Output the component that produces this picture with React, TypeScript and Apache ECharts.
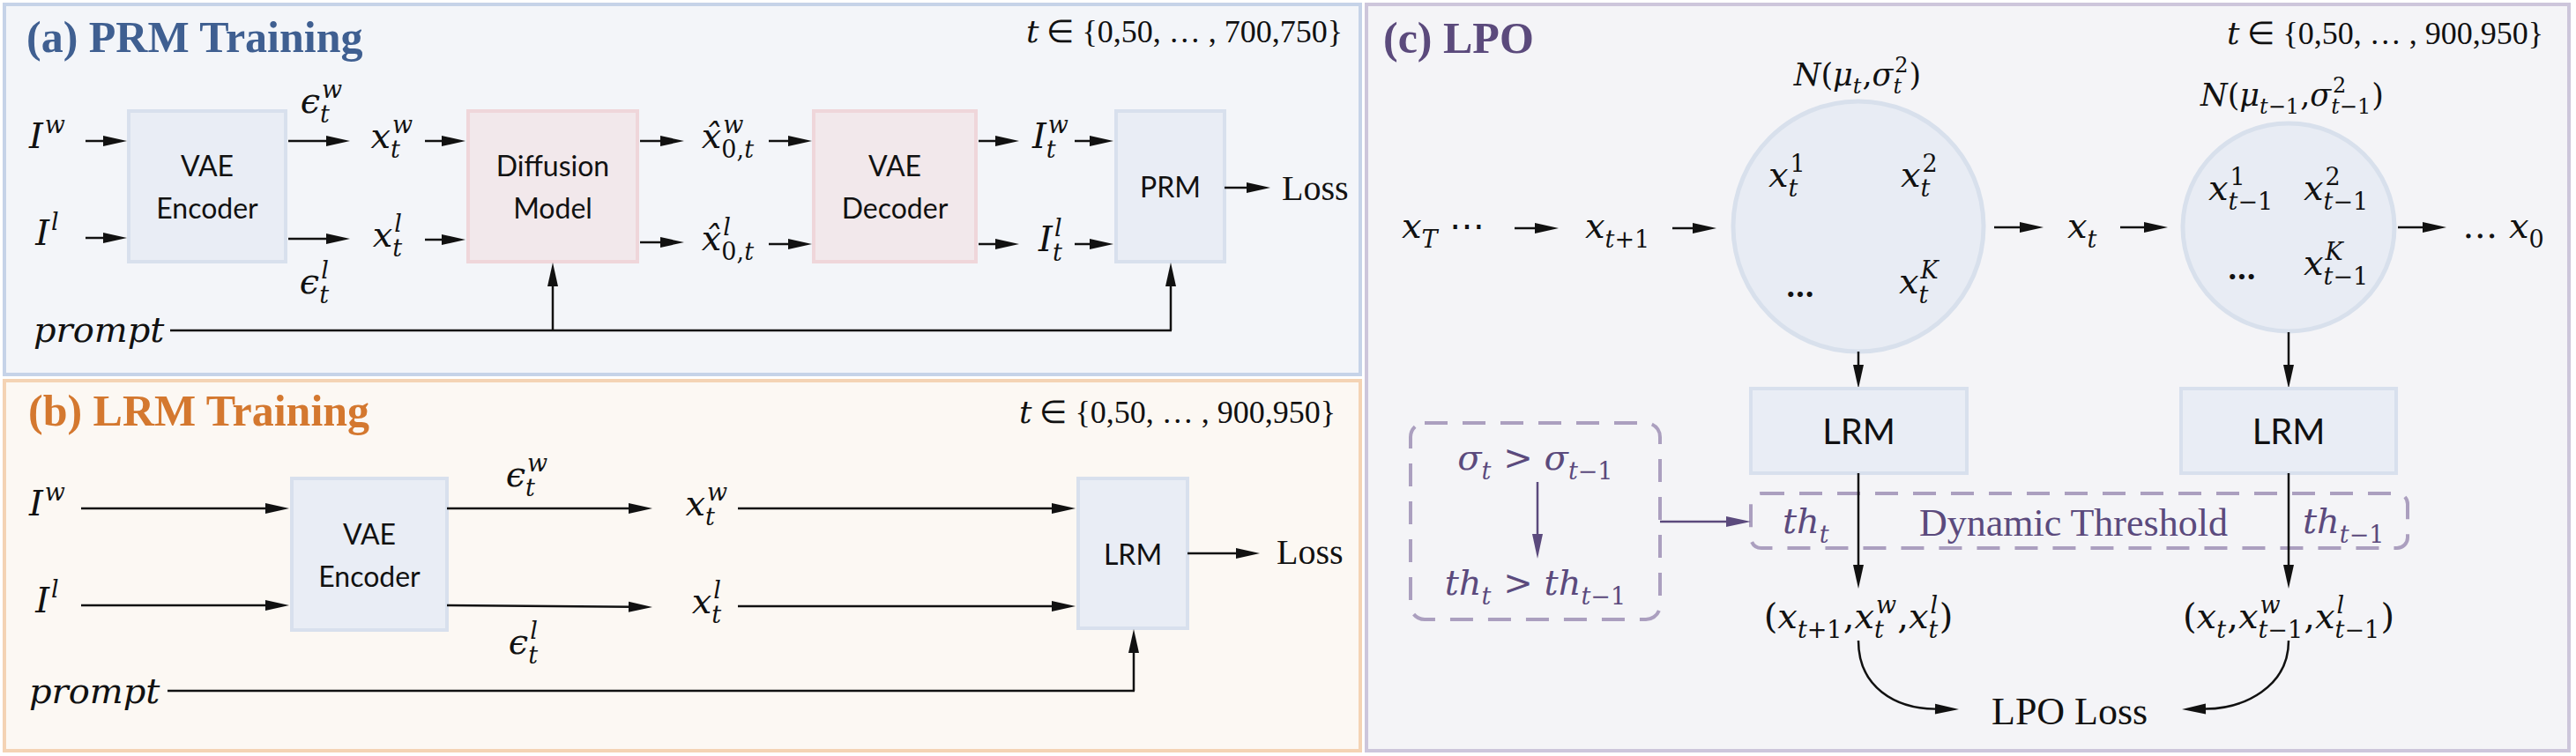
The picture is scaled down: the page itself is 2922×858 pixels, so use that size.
import { useEffect, useRef } from "react";
import * as echarts from "echarts";

const W = 2922;
const H = 858;

const MATH = '"DejaVu Serif", serif';
const ROMAN = '"Liberation Serif", "Times New Roman", serif';
const SANS = 'Lato, "Open Sans", sans-serif';

// labels of the diagram
const TITLES = ["(a) PRM Training", "(b) LRM Training", "(c) LPO"];
const TITLE_COLORS = ["#3f5f91", "#d4782f", "#5b4a7c"];
const RANGES = ["t ∈ {0,50, … , 700,750}", "t ∈ {0,50, … , 900,950}", "t ∈ {0,50, … , 900,950}"];
const PRM_BOXES = [["VAE", "Encoder"], ["Diffusion", "Model"], ["VAE", "Decoder"], ["PRM"]];
const PRM_WIN = ["I^w", "ϵ_t^w", "x_t^w", "x\u0302_{0,t}^w", "I_t^w"];
const PRM_LOSE = ["I^l", "ϵ_t^l", "x_t^l", "x\u0302_{0,t}^l", "I_t^l"];
const LRM_BOXES = [["VAE", "Encoder"], ["LRM"]];
const LRM_WIN = ["I^w", "ϵ_t^w", "x_t^w"];
const LRM_LOSE = ["I^l", "ϵ_t^l", "x_t^l"];
const CHAIN = ["x_T ⋯", "x_{t+1}", "x_t", "… x_0"];
const GAUSS = ["N(μ_t,σ_t^2)", "N(μ_{t-1},σ_{t-1}^2)"];
const SAMPLES_T = ["x_t^1", "x_t^2", "…", "x_t^K"];
const SAMPLES_T1 = ["x_{t-1}^1", "x_{t-1}^2", "…", "x_{t-1}^K"];
const PAIRS = ["(x_{t+1},x_t^w,x_t^l)", "(x_t,x_{t-1}^w,x_{t-1}^l)"];
const THRESH = ["th_t", "Dynamic Threshold", "th_{t-1}"];
const RULE = ["σ_t > σ_{t-1}", "th_t > th_{t-1}"];
const LOSSES = ["Loss", "Loss", "LPO Loss"];
const PROMPT = "prompt";

const INK = "#111111";
const PURPLE = "#5b4a7d";
const DASH = "#ab9fbf";
const BLUE_BOX = { fill: "#e9edf5", stroke: "#d8e0ed" };
const PINK_BOX = { fill: "#f2e8eb", stroke: "#efd6da" };

// ---- text helpers ----
const measureCtx = document.createElement("canvas").getContext("2d")!;
function textW(s: string, size: number, italic: boolean, family = MATH) {
  measureCtx.font = `${italic ? "italic " : ""}${size}px ${family}`;
  return measureCtx.measureText(s).width;
}
const isLetter = (c: string) => /[A-Za-z\u0370-\u03ff]/.test(c);
const isCombining = (c: string) => /[\u0300-\u036f]/.test(c);

type Atom = { b: string; sub?: string; sup?: string };

function parse(src: string): Atom[] {
  const atoms: Atom[] = [];
  let i = 0;
  while (i < src.length) {
    const c = src[i];
    if (c === "_" || c === "^") {
      i++;
      let arg = "";
      if (src[i] === "{") {
        const j = src.indexOf("}", i);
        arg = src.slice(i + 1, j);
        i = j + 1;
      } else {
        arg = src[i];
        i++;
      }
      const last = atoms[atoms.length - 1];
      if (c === "_") last.sub = arg;
      else last.sup = arg;
    } else if (isCombining(c) && atoms.length) {
      atoms[atoms.length - 1].b += c;
      i++;
    } else {
      atoms.push({ b: c });
      i++;
    }
  }
  return atoms;
}

function runs(s: string) {
  const out: { s: string; it: boolean }[] = [];
  for (const ch of s.replace(/-/g, "−")) {
    const it = isLetter(ch);
    const last = out[out.length - 1];
    if (last && last.it === it) last.s += ch;
    else out.push({ s: ch, it });
  }
  return out;
}

// math-like label: italic letters, upright digits/symbols, sub- and superscripts
function math(src: string, x: number, baseline: number, F: number, align = "left", color = INK, upFamily = MATH) {
  const S = Math.round(F * 0.68);
  const items: { s: string; it: boolean; size: number; dx: number; db: number }[] = [];
  const fam = (it: boolean) => (it ? MATH : upFamily);
  let cx = 0;
  const put = (str: string, size: number, db: number, startX: number) => {
    let px = startX;
    for (const r of runs(str)) {
      items.push({ s: r.s, it: r.it, size, dx: px, db });
      px += textW(r.s, size, r.it, fam(r.it));
    }
    return px - startX;
  };
  for (const a of parse(src)) {
    const it = isLetter(a.b[0]);
    items.push({ s: a.b, it, size: F, dx: cx, db: 0 });
    cx += textW(a.b, F, it, fam(it));
    let w = 0;
    if (a.sup) w = Math.max(w, put(a.sup, S, -0.42 * F, cx + F * 0.05) + F * 0.05);
    if (a.sub) w = Math.max(w, put(a.sub, S, 0.27 * F, cx));
    if (w) cx += w + F * 0.03;
  }
  const off = align === "center" ? -cx / 2 : align === "right" ? -cx : 0;
  return items.map((p) => ({
    type: "text",
    x: x + off + p.dx,
    y: baseline + p.db - 0.346 * p.size,
    style: {
      text: p.s,
      fontSize: p.size,
      fontFamily: fam(p.it),
      fontStyle: p.it ? "italic" : "normal",
      fill: color,
      align: "left",
      verticalAlign: "middle",
    },
  }));
}

function label(text: string, x: number, y: number, size: number, family: string, opts: any = {}) {
  return {
    type: "text",
    x,
    y,
    style: {
      text,
      fontSize: size,
      fontFamily: family,
      fontWeight: opts.weight || "normal",
      fill: opts.color || INK,
      align: opts.align || "left",
      verticalAlign: "middle",
    },
  };
}

// ---- shape helpers ----
function arrow(x1: number, y1: number, x2: number, y2: number, color = INK, lw = 2.5, hl = 27, hw = 6) {
  const ang = Math.atan2(y2 - y1, x2 - x1);
  const bx = x2 - hl * Math.cos(ang);
  const by = y2 - hl * Math.sin(ang);
  const nx = -Math.sin(ang) * hw;
  const ny = Math.cos(ang) * hw;
  return [
    { type: "line", shape: { x1, y1, x2: bx + Math.cos(ang) * 4, y2: by + Math.sin(ang) * 4 }, style: { stroke: color, lineWidth: lw } },
    { type: "polygon", shape: { points: [[x2, y2], [bx + nx, by + ny], [bx - nx, by - ny]] }, style: { fill: color } },
  ];
}

function curveArrow(x1: number, y1: number, c1x: number, c1y: number, c2x: number, c2y: number, x2: number, y2: number) {
  const ang = Math.atan2(y2 - c2y, x2 - c2x);
  const hl = 27, hw = 6;
  const bx = x2 - hl * Math.cos(ang);
  const by = y2 - hl * Math.sin(ang);
  const nx = -Math.sin(ang) * hw;
  const ny = Math.cos(ang) * hw;
  return [
    { type: "bezierCurve", shape: { x1, y1, cpx1: c1x, cpy1: c1y, cpx2: c2x, cpy2: c2y, x2: bx, y2: by }, style: { stroke: INK, lineWidth: 2.5, fill: "none" } },
    { type: "polygon", shape: { points: [[x2, y2], [bx + nx, by + ny], [bx - nx, by - ny]] }, style: { fill: INK } },
  ];
}

function box(x: number, y: number, w: number, h: number, c: { fill: string; stroke: string }, lines: string[], size = 32, lineGap = 48) {
  const els: any[] = [{ type: "rect", shape: { x, y, width: w, height: h }, style: { fill: c.fill, stroke: c.stroke, lineWidth: 4 } }];
  const cy = y + h / 2 - ((lines.length - 1) * lineGap) / 2;
  lines.forEach((t, i) => els.push(label(t, x + w / 2, cy + i * lineGap, size, SANS, { align: "center" })));
  return els;
}

function panel(x: number, y: number, w: number, h: number, fill: string, stroke: string) {
  return { type: "rect", shape: { x, y, width: w, height: h }, style: { fill, stroke, lineWidth: 4 } };
}

function buildElements() {
  const el: any[] = [];
  const F = 40;

  // ---------- (a) PRM training ----------
  el.push(panel(5, 5, 1538, 420, "#f3f5f9", "#c6d3e8"));
  el.push(label(TITLES[0], 30, 59 - 17, 50, ROMAN, { weight: "bold", color: TITLE_COLORS[0] }));
  el.push(...math(RANGES[0], 1523, 48, 36, "right", INK, ROMAN));

  const aBoxes = [
    [146, 126, 178, 171, BLUE_BOX],
    [531, 126, 192, 171, PINK_BOX],
    [923, 126, 184, 171, PINK_BOX],
    [1266, 126, 123, 171, BLUE_BOX],
  ] as const;
  aBoxes.forEach((b, i) => el.push(...box(b[0], b[1], b[2], b[3], b[4], PRM_BOXES[i])));

  // top row
  el.push(...math(PRM_WIN[0], 54, 168, F, "center"));
  el.push(...arrow(97, 160, 144, 160));
  el.push(...arrow(327, 160, 397, 160));
  el.push(...math(PRM_WIN[1], 365, 128, F, "center"));
  el.push(...math(PRM_WIN[2], 445, 168, F, "center"));
  el.push(...arrow(482, 160, 528, 160));
  el.push(...arrow(726, 160, 776, 160));
  el.push(...math(PRM_WIN[3], 826, 168, F, "center"));
  el.push(...arrow(872, 160, 921, 160));
  el.push(...arrow(1110, 160, 1156, 160));
  el.push(...math(PRM_WIN[4], 1192, 168, F, "center"));
  el.push(...arrow(1219, 160, 1263, 160));
  // bottom row
  el.push(...math(PRM_LOSE[0], 54, 278, F, "center"));
  el.push(...arrow(97, 270, 144, 270));
  el.push(...arrow(327, 271, 397, 271));
  el.push(...math(PRM_LOSE[1], 357, 333, F, "center"));
  el.push(...math(PRM_LOSE[2], 440, 280, F, "center"));
  el.push(...arrow(482, 272, 528, 272));
  el.push(...arrow(726, 275, 776, 275));
  el.push(...math(PRM_LOSE[3], 826, 284, F, "center"));
  el.push(...arrow(872, 277, 921, 277));
  el.push(...arrow(1110, 277, 1156, 277));
  el.push(...math(PRM_LOSE[4], 1192, 285, F, "center"));
  el.push(...arrow(1219, 277, 1263, 277));
  // loss + prompt
  el.push(...arrow(1389, 213, 1441, 213));
  el.push(label(LOSSES[0], 1454, 227 - 14, 40, ROMAN));
  el.push(...math(PROMPT, 38, 388, F));
  el.push({ type: "line", shape: { x1: 193, y1: 375, x2: 1329, y2: 375 }, style: { stroke: INK, lineWidth: 2.5 } });
  el.push(...arrow(627, 375, 627, 298));
  el.push(...arrow(1328, 375, 1328, 298));

  // ---------- (b) LRM training ----------
  el.push(panel(5, 432, 1538, 420, "#fcf8f3", "#f4d3b4"));
  el.push(label(TITLES[1], 32, 483 - 17, 50, ROMAN, { weight: "bold", color: TITLE_COLORS[1] }));
  el.push(...math(RANGES[1], 1515, 480, 36, "right", INK, ROMAN));
  el.push(...box(331, 543, 176, 172, BLUE_BOX, LRM_BOXES[0]));
  el.push(...box(1223, 543, 124, 170, BLUE_BOX, LRM_BOXES[1]));

  el.push(...math(LRM_WIN[0], 54, 585, F, "center"));
  el.push(...arrow(92, 577, 328, 577));
  el.push(...arrow(507, 577, 740, 577));
  el.push(...math(LRM_WIN[1], 598, 552, F, "center"));
  el.push(...math(LRM_WIN[2], 802, 585, F, "center"));
  el.push(...arrow(837, 577, 1220, 577));

  el.push(...math(LRM_LOSE[0], 54, 695, F, "center"));
  el.push(...arrow(92, 687, 328, 687));
  el.push(...arrow(507, 687, 740, 689));
  el.push(...math(LRM_LOSE[1], 594, 742, F, "center"));
  el.push(...math(LRM_LOSE[2], 802, 696, F, "center"));
  el.push(...arrow(837, 688, 1220, 688));

  el.push(...arrow(1347, 628, 1429, 628));
  el.push(label(LOSSES[1], 1448, 640 - 14, 40, ROMAN));
  el.push(...math(PROMPT, 33, 798, F));
  el.push({ type: "line", shape: { x1: 190, y1: 784, x2: 1287, y2: 784 }, style: { stroke: INK, lineWidth: 2.5 } });
  el.push(...arrow(1286, 784, 1286, 714));

  // ---------- (c) LPO ----------
  el.push(panel(1550, 5, 1364, 847, "#f4f4f7", "#cdc6db"));
  el.push(label(TITLES[2], 1569, 60 - 17, 50, ROMAN, { weight: "bold", color: TITLE_COLORS[2] }));
  el.push(...math(RANGES[2], 2885, 50, 36, "right", INK, ROMAN));

  el.push(...math(GAUSS[0], 2107, 97, 35, "center"));
  el.push(...math(GAUSS[1], 2600, 120, 35, "center"));

  el.push({ type: "ellipse", shape: { cx: 2108, cy: 257, rx: 142, ry: 142 }, style: { fill: "#e8ecf4", stroke: "#d8e0ec", lineWidth: 5 } });
  el.push({ type: "ellipse", shape: { cx: 2596, cy: 258, rx: 120, ry: 118 }, style: { fill: "#e8ecf4", stroke: "#d8e0ec", lineWidth: 5 } });

  el.push(...math(SAMPLES_T[0], 2006, 212, F));
  el.push(...math(SAMPLES_T[1], 2156, 212, F));
  el.push(label(SAMPLES_T[2], 2042, 322, 40, SANS, { weight: "bold", align: "center" }));
  el.push(...math(SAMPLES_T[3], 2154, 333, F));
  el.push(...math(SAMPLES_T1[0], 2505, 227, F));
  el.push(...math(SAMPLES_T1[1], 2613, 227, F));
  el.push(label(SAMPLES_T1[2], 2543, 302, 40, SANS, { weight: "bold", align: "center" }));
  el.push(...math(SAMPLES_T1[3], 2613, 312, F));

  el.push(...math(CHAIN[0], 1590, 270, F));
  el.push(...arrow(1718, 259, 1768, 259));
  el.push(...math(CHAIN[1], 1798, 270, F));
  el.push(...arrow(1897, 259, 1947, 259));
  el.push(...arrow(2262, 258, 2318, 258));
  el.push(...math(CHAIN[2], 2345, 270, F));
  el.push(...arrow(2405, 258, 2459, 258));
  el.push(...arrow(2720, 258, 2775, 258));
  el.push(...math(CHAIN[3], 2887, 270, F, "right"));

  el.push(...arrow(2108, 399, 2108, 441));
  el.push(...arrow(2596, 377, 2596, 441));
  el.push(...box(1986, 441, 245, 96, BLUE_BOX, ["LRM"], 40));
  el.push(...box(2474, 441, 244, 96, BLUE_BOX, ["LRM"], 40));

  // dynamic threshold frames
  el.push({ type: "rect", shape: { x: 1600, y: 480, width: 283, height: 223, r: 16 }, style: { fill: "none", stroke: DASH, lineWidth: 4, lineDash: [26, 17] } });
  el.push({ type: "rect", shape: { x: 1986, y: 560, width: 745, height: 62, r: 12 }, style: { fill: "none", stroke: DASH, lineWidth: 4, lineDash: [26, 17] } });
  el.push(...math(RULE[0], 1742, 533, F, "center", PURPLE));
  el.push(...arrow(1744, 547, 1744, 634, PURPLE, 2.5, 28, 6));
  el.push(...math(RULE[1], 1742, 675, F, "center", PURPLE));
  el.push(...arrow(1883, 592, 1986, 592, PURPLE, 2.5, 28, 6));
  el.push(...math(THRESH[0], 2022, 605, F, "left", PURPLE));
  el.push(label(THRESH[1], 2177, 608 - 15, 44, ROMAN, { color: PURPLE }));
  el.push(...math(THRESH[2], 2612, 605, F, "left", PURPLE));

  el.push(...arrow(2108, 537, 2108, 668));
  el.push(...arrow(2596, 537, 2596, 668));
  el.push(...math(PAIRS[0], 2108, 713, F, "center"));
  el.push(...math(PAIRS[1], 2596, 713, F, "center"));

  el.push(...curveArrow(2108, 727, 2108, 780, 2150, 804, 2222, 805));
  el.push(...curveArrow(2596, 727, 2596, 780, 2545, 804, 2475, 805));
  el.push(label(LOSSES[2], 2259, 822 - 15, 44, ROMAN));

  return el;
}

export default function App() {
  const chartRef = useRef<HTMLDivElement>(null);

  useEffect(() => {
    document.body.style.margin = "0";
    if (!chartRef.current) return;
    const chart = echarts.init(chartRef.current, null, { renderer: "svg" });
    chart.setOption({
      animation: false,
      backgroundColor: "#ffffff",
      graphic: { elements: buildElements() },
    });
    return () => {
      chart.dispose();
    };
  }, []);

  return <div ref={chartRef} style={{ width: W, height: H }}></div>;
}
